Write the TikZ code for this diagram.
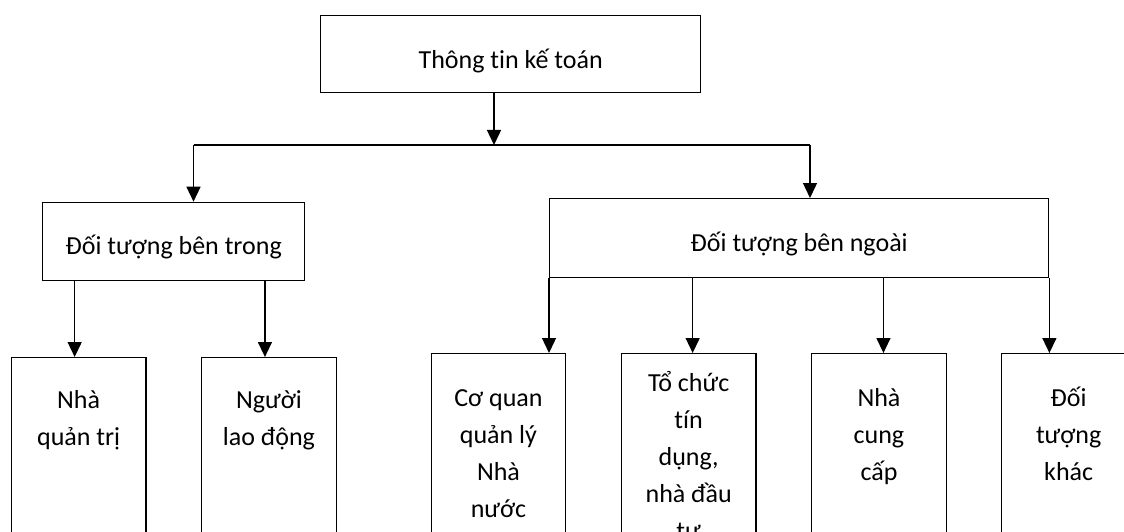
\documentclass[tikz,border=0pt]{standalone}
\usepackage{fontspec}
\setmainfont{Carlito}[Ligatures=CommonOff]
\usetikzlibrary{arrows.meta,positioning,calc}
\tikzset{
  box/.style={draw=black, line width=1.4pt, inner sep=0pt, anchor=north west},
  leaf/.style={box, minimum width=134.5pt, minimum height=200pt},
  txt/.style={inner sep=0pt, align=center, font=\fontsize{26}{37}\selectfont},
  arr/.style={line width=1.4pt, -{Triangle[length=15pt,width=14pt]}}
}

\begin{document}
\begin{tikzpicture}[x=1pt,y=-1pt]
    \useasboundingbox (0,0) rectangle (1124,532);
    \clip (0,0) rectangle (1124,532);

    % draw boxes
    \node[box, minimum width=380pt, minimum height=77pt] (ttkt) at (320,15) {};
    \node[box, minimum width=262pt, minimum height=78.3pt] (dtbt) at (42,201.7) {};
    \node[box, minimum width=499pt, minimum height=79pt] (dtbn) at (549,198) {};
    \node[leaf] (nqt) at (10.7,357) {};
    \node[leaf] (nld) at (201,357) {};
    \node[leaf] (cqql) at (430.5,353) {};
    \node[leaf] (tctd) at (620.7,353) {};
    \node[leaf] (ncc) at (811,353) {};
    \node[leaf] (dtk) at (1000.7,353) {};

    % draw texts
    \node[txt, below=27.1pt of ttkt.north] (ttkt-t) {\strut Thông tin kế toán};
    \node[txt, below=27.1pt of dtbt.north] (dtbt-t) {\strut Đối tượng bên trong};
    \node[txt, below=27.1pt of dtbn.north] (dtbn-t) {\strut Đối tượng bên ngoài};
    \node[txt, below=25pt of nqt.north] (nqt-t) {\strut Nhà\\quản trị};
    \node[txt, below=25pt of nld.north] (nld-t) {\strut Người\\lao động};
    \node[txt, below=27.1pt of cqql.north] (cqql-t) {\strut Cơ quan\\quản lý\\Nhà\\nước};
    \node[txt, below=12.6pt of tctd.north] (tctd-t) {\strut Tổ chức\\tín\\dụng,\\nhà đầu\\tư};
    \node[txt, below=27.1pt of ncc.north] (ncc-t) {\strut Nhà\\cung\\cấp};
    \node[txt, below=27.1pt of dtk.north] (dtk-t) {\strut Đối\\tượng\\khác};

    % draw arrows
    \coordinate (busM) at (494,145);
    \coordinate (busL) at (193.5,145);
    \coordinate (busR) at (810,145);
    \draw[arr] (ttkt.south -| busM) -- (busM);
    \draw[line width=1.4pt] (busL) -- (busR);
    \draw[arr] (busL) -- (busL |- dtbt.north);
    \draw[arr] (busR) -- (busR |- dtbn.north);
    \foreach \n/\src/\dx in {nqt/dtbt/-4, nld/dtbt/-4, tctd/dtbn/4, ncc/dtbn/4.5} {
        \coordinate (\n-in) at ($(\n.north)+(\dx,0)$);
        \draw[arr] (\src.south -| \n-in) -- (\n-in);
    }
    \draw[arr] (dtbn.south west) -- (dtbn.south west |- cqql.north);
    \draw[arr] (dtbn.south east) -- (dtbn.south east |- dtk.north);
\end{tikzpicture}
\end{document}
